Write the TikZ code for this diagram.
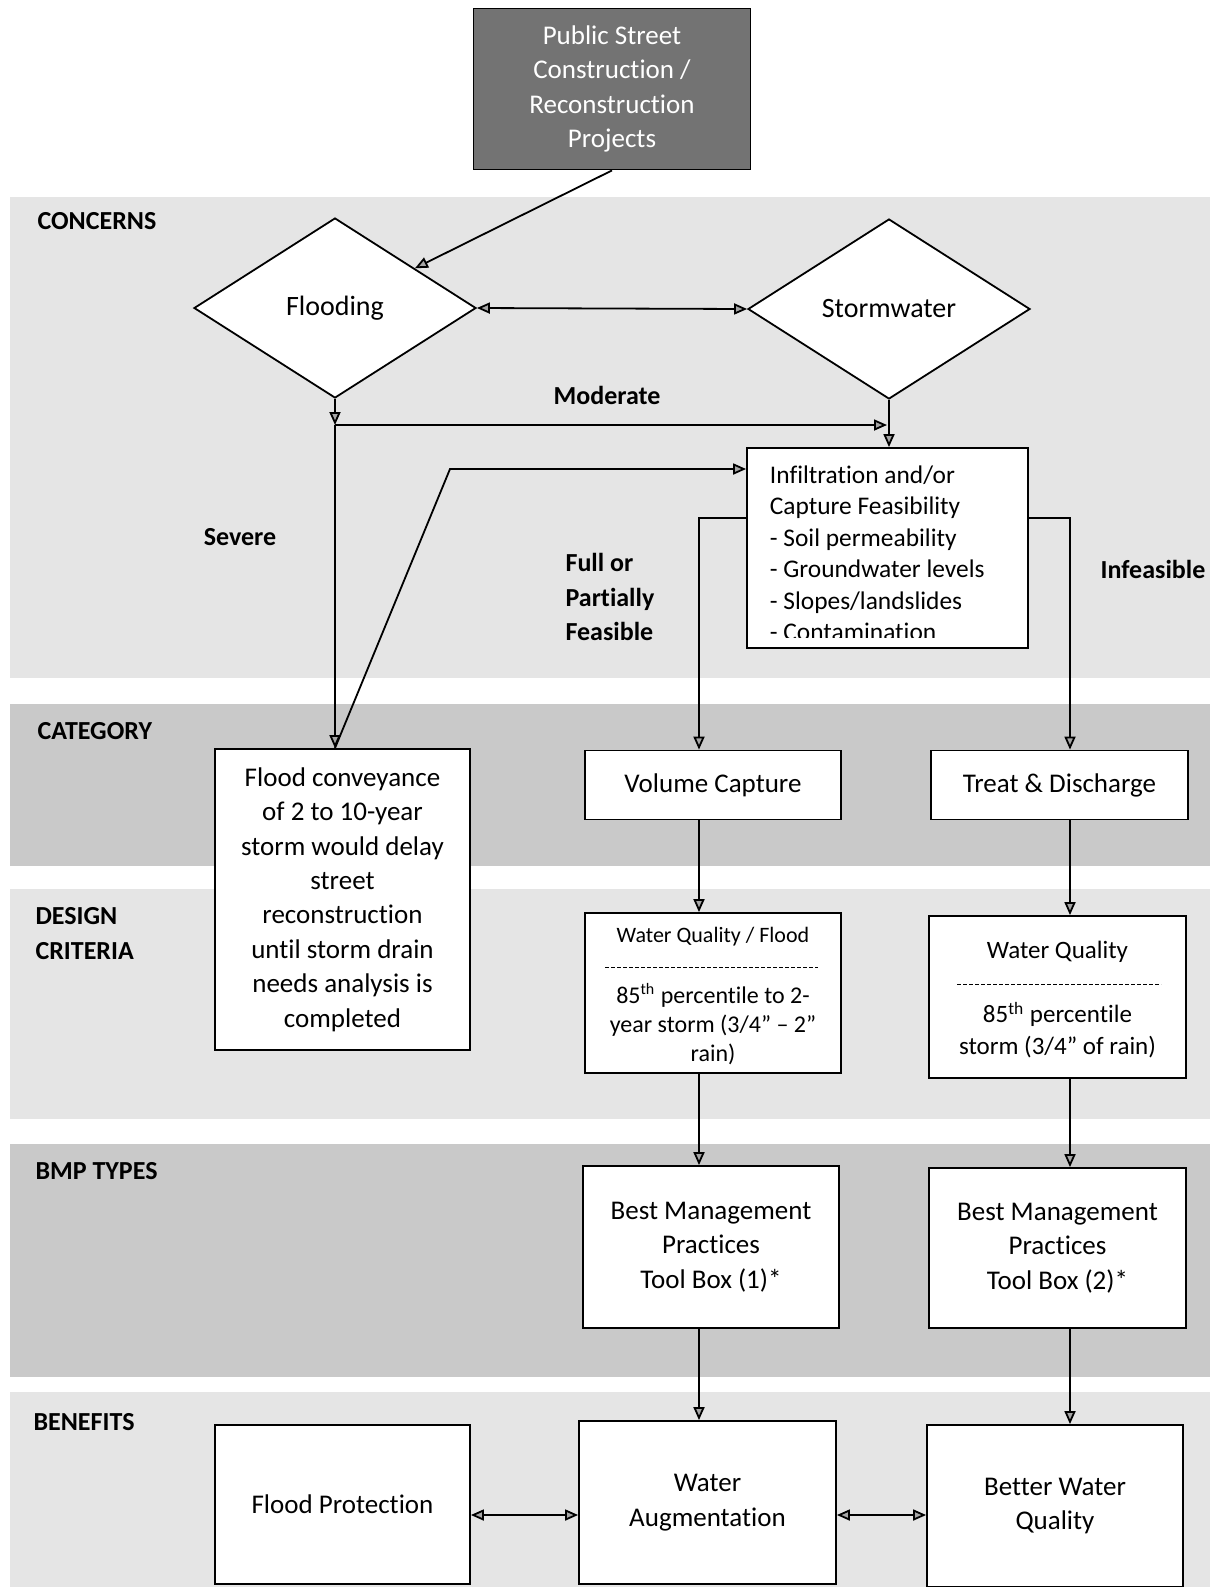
\documentclass[tikz,border=0pt]{standalone}
\usepackage{fontspec}
\setmainfont{Carlito}[Ligatures=NoCommon]
\usetikzlibrary{arrows.meta,shapes.geometric}

\begin{document}
\begin{tikzpicture}[x=0.5pt, y=-0.5pt, line width=0.9pt,
	>={Triangle[length=6.5pt,width=5.5pt,fill=black!35]},
	box/.style={draw, fill=white, align=center, inner sep=2pt, font=\fontsize{13.5}{17.2}\selectfont},
	dia/.style={draw, fill=white, diamond, minimum width=141pt, minimum height=90pt, font=\fontsize{14}{17}\selectfont},
	sect/.style={anchor=west, align=left, font=\bfseries\fontsize{13}{17.5}\selectfont},
	cond/.style={font=\bfseries\fontsize{13}{17.3}\selectfont}]
	\useasboundingbox (0,0) rectangle (1221,1587);
	% bands
	\fill[black!10] (10,197) rectangle (1210,678);
	\fill[black!21] (10,704) rectangle (1210,866);
	\fill[black!10] (10,889) rectangle (1210,1119);
	\fill[black!21] (10,1144) rectangle (1210,1377);
	\fill[black!10] (10,1392) rectangle (1210,1587);
	\node[sect] (concerns) at (30,221) {CONCERNS};
	\node[sect] (category) at (30,731) {CATEGORY};
	\node[sect] (design) at (28,934) {DESIGN\\CRITERIA};
	\node[sect] (bmp) at (28,1171) {BMP TYPES};
	\node[sect] (benefits) at (26,1422) {BENEFITS};
	% concerns
	\node[box, fill=black!55, text=white, minimum width=138.5pt, minimum height=80.5pt] (proj) at (612,89) {Public Street\\Construction /\\Reconstruction\\Projects};
	\node[dia] (flood) at (335,308) {Flooding};
	\node[dia] (storm) at (889,309) {Stormwater};
	\draw[->] (proj.south) -- (flood);
	\draw[<->] (flood.east) -- (storm.west);
	\coordinate (sev) at (335,425);
	\coordinate (kink) at (450,469);
	\coordinate (fork) at (0,518);
	\coordinate (colA) at (699,0);
	\coordinate (colB) at (1070,0);
	\coordinate (bline) at (0,1515);
	\node[box, minimum width=140.5pt, minimum height=100pt] (infil) at (887.5,548) {};
	\begin{scope}
		\clip (infil.north west) rectangle (1028,637);
		\node[anchor=north west, align=left, inner sep=0pt, font=\fontsize{12.7}{15.7}\selectfont] (infiltext) at (769,465) {Infiltration and/or\\Capture Feasibility\\- Soil permeability\\- Groundwater levels\\- Slopes/landslides\\- Contamination};
	\end{scope}
	\node[cond] (moderate) at (607,395) {Moderate};
	\node[cond] (severe) at (240,537) {Severe};
	\node[cond, align=left, anchor=west] (feasible) at (558,597) {Full or\\Partially\\Feasible};
	\node[cond] (infeasible) at (1153,569) {Infeasible};
	% category
	\node[box, minimum width=127.5pt, minimum height=150.5pt] (conv) at (342.5,899.5) {Flood conveyance\\of 2 to 10-year\\storm would delay\\street\\reconstruction\\until storm drain\\needs analysis is\\completed};
	\node[box, minimum width=128pt, minimum height=34.5pt] (vol) at (713,785) {Volume Capture};
	\node[box, minimum width=128.5pt, minimum height=34.5pt] (treat) at (1059.5,785) {Treat \& Discharge};
	\draw[->] (flood.south) -- (sev);
	\draw[->] (sev) -- ([xshift=-1pt]sev -| storm.south);
	\draw[->] (storm.south) -- (infil.north -| storm.south);
	\draw[->] (sev) -- (conv.north -| sev);
	\draw[->] (conv.north -| sev) -- (kink) -- (infil.west |- kink);
	\draw[->] (infil.west |- fork) -- (fork -| colA) -- (vol.north -| colA);
	\draw[->] (infil.east |- fork) -- (fork -| colB) -- (treat.north -| colB);
	% design criteria
	\node[box, minimum width=128pt, minimum height=80pt] (wqf) at (713,993) {};
	\node[font=\fontsize{11}{14}\selectfont] (wqftitle) at (713,937) {Water Quality / Flood};
	\draw[dashed, dash pattern=on 2pt off 1pt, line width=0.5pt] (605,967) -- (818,967);
	\node[align=center, font=\fontsize{12}{14.5}\selectfont] (wqftext) at (713,1024) {85\textsuperscript{th} percentile to 2-\\year storm (3/4” – 2”\\rain)};
	\node[box, minimum width=128.5pt, minimum height=81pt] (wq) at (1057.5,997) {};
	\node[font=\fontsize{12.5}{15}\selectfont] (wqtitle) at (1057.5,952) {Water Quality};
	\draw[dashed, dash pattern=on 2pt off 1pt, line width=0.5pt] (957,984) -- (1161,984);
	\node[align=center, font=\fontsize{12.5}{16}\selectfont] (wqtext) at (1057.5,1030) {85\textsuperscript{th} percentile\\storm (3/4” of rain)};
	\draw[->] (vol.south -| colA) -- (wqf.north -| colA);
	\draw[->] (treat.south -| colB) -- (wq.north -| colB);
	% bmp types
	\node[box, minimum width=128pt, minimum height=81pt] (bmpa) at (711,1247) {Best Management\\Practices\\Tool Box (1)*};
	\node[box, minimum width=128.5pt, minimum height=80pt] (bmpb) at (1057.5,1248) {Best Management\\Practices\\Tool Box (2)*};
	\draw[->] (wqf.south -| colA) -- (bmpa.north -| colA);
	\draw[->] (wq.south -| colB) -- (bmpb.north -| colB);
	% benefits
	\node[box, minimum width=127.5pt, minimum height=79.5pt] (prot) at (342.5,1504.5) {Flood Protection};
	\node[box, minimum width=128.5pt, minimum height=81.5pt] (aug) at (707.5,1502.5) {Water\\Augmentation};
	\node[box, minimum width=128pt, minimum height=81pt] (better) at (1055,1506) {Better Water\\Quality};
	\draw[->] (bmpa.south -| colA) -- (aug.north -| colA);
	\draw[->] (bmpb.south -| colB) -- (better.north -| colB);
	\draw[<->] (prot.east |- bline) -- (aug.west |- bline);
	\draw[<->] (aug.east |- bline) -- (better.west |- bline);
\end{tikzpicture}
\end{document}
